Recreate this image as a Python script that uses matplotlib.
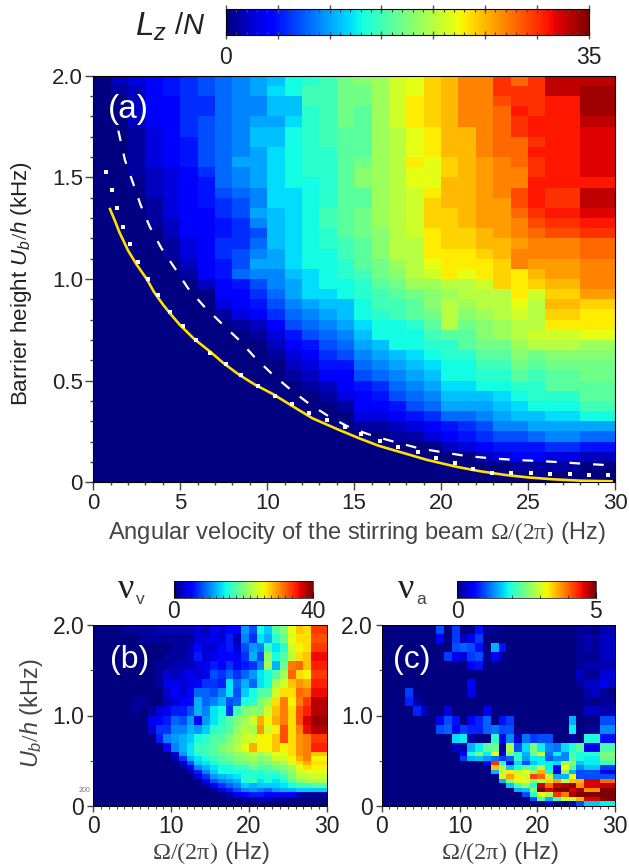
import numpy as np
import matplotlib
matplotlib.use("Agg")
import matplotlib.pyplot as plt

plt.rcParams["font.family"] = ["Liberation Sans", "DejaVu Sans"]
plt.rcParams["mathtext.fontset"] = "custom"
plt.rcParams["mathtext.rm"] = "Liberation Serif"
plt.rcParams["mathtext.it"] = "Liberation Sans:italic"

# panel (a): Lz/N, one list per 1 Hz column, from Ub=0 upward in 0.05 kHz rows
lz_cols = [
    [0]*40,
    [0]*38 + [1, 2],
    [0]*29 + [.5, 1, 1, 1, 1, 1, 2, 2, 2, 2, 3],
    [0]*25 + [1, 1, 1, 2, 2, 2, 3, 3, 3, 3, 4, 4, 4, 4, 4],
    [0]*22 + [1, 1, 2, 2, 3, 3, 3, 3, 3, 4, 4, 4, 4, 4, 4, 4, 5, 5],
    [0]*20 + [1, 2, 3, 3, 4, 4, 4, 4, 4, 4, 4, 5, 5, 5, 6, 6, 6, 6, 6, 6],
    [0]*19 + [2, 4, 4, 4, 4, 4, 4, 4, 5, 5, 5, 6, 7, 7, 7, 7, 7, 6, 6, 7, 7],
    [0]*16 + [1, 3, 4, 4, 5, 5, 6, 6, 5, 5, 6, 6, 7, 8, 8, 8, 8, 8, 8, 8, 8, 8, 8, 8],
    [0]*15 + [1, 3, 4, 4, 5, 8, 7, 7, 6, 6, 6, 7, 7, 8, 9, 9, 10, 9, 9, 9, 9, 9, 9, 9, 9],
    [0]*14 + [1, 2, 4, 5, 6, 7, 9, 10, 9, 8, 7, 9, 10, 9, 9, 10, 10, 10, 10, 11, 11, 10, 9, 9, 10, 10],
    [0]*12 + [1, 2, 3, 4, 6, 7, 8, 9, 9, 10, 10, 11, 11, 11, 11, 12, 12, 12, 12, 12, 12, 11, 11, 10, 11, 11, 12, 11],
    [0]*10 + [1, 2, 3, 4, 5, 7, 8, 9, 10, 10, 11, 12, 12, 12, 12, 12, 12, 12, 12, 13, 13, 13, 13, 13, 13, 12, 11, 11, 13, 13],
    [0]*9 + [1, 2, 3, 4, 5, 7, 8, 9, 10, 12, 12, 12, 13, 13, 13, 13, 13, 13, 13, 13, 13, 14, 14, 14, 14, 14, 14, 14, 15, 15, 14],
    [0]*8 + [1, 2, 4, 5, 6, 7, 8, 9, 10, 11, 12, 13, 13, 13, 13, 14, 14, 15, 15, 14, 14, 14, 14, 14, 14, 15, 15, 15, 15, 15, 15, 15],
    [0]*7 + [1, 3, 4, 4, 5, 7, 8, 9, 10, 11, 11, 13, 13, 14, 14, 15, 15, 16, 16, 16, 16, 16, 16, 16, 16, 16, 16, 16, 17, 17, 17, 17, 17],
    [0]*5 + [1, 3, 4, 4, 5, 7, 8, 9, 10, 11, 12, 13, 13, 14, 14, 15, 16, 16, 16, 17, 17, 17, 16, 16, 18, 18, 17, 16, 16, 16, 16, 16, 17, 17, 18],
    [0]*5 + [1, 3, 4, 5, 6, 8, 9, 10, 11, 13, 13, 14, 15, 15, 16, 17, 17, 18, 18, 18, 19, 19, 19, 19, 19, 19, 19, 19, 19, 19, 19, 19, 19, 19, 19],
    [0]*4 + [1, 2, 4, 5, 7, 8, 9, 10, 11, 13, 13, 13, 15, 15, 16, 17, 18, 19, 20, 20, 20, 20, 20, 20, 20, 20, 20, 20, 20, 20, 20, 21, 21, 21, 21, 21],
    [0]*4 + [1, 3, 5, 7, 8, 9, 10, 11, 12, 13, 13, 14, 16, 16, 17, 19, 20, 20, 20, 20, 21, 21, 21, 21, 21, 22, 22, 23, 22, 22, 22, 23, 23, 23, 22, 22],
    [0]*4 + [3, 4, 6, 8, 9, 10, 11, 12, 13, 14, 15, 16, 17, 18, 18, 19, 21, 22, 23, 23, 23, 24, 24, 24, 23, 22, 22, 22, 23, 23, 23, 24, 24, 24, 24, 24],
    [0]*3 + [2, 4, 5, 8, 10, 11, 12, 13, 13, 14, 14, 16, 20, 20, 20, 19, 20, 23, 23, 23, 24, 24, 24, 24, 25, 25, 25, 24, 24, 25, 25, 25, 25, 25, 25, 25, 25],
    [0]*3 + [3, 5, 6, 8, 10, 11, 12, 13, 13, 14, 16, 16, 17, 18, 19, 20, 20, 22, 23, 23, 24, 24, 25, 25, 25, 25, 25, 25, 25, 25, 25, 25, 27, 27, 27, 27, 27],
    [0]*2 + [2, 4, 6, 7, 9, 10, 11, 13, 14, 15, 16, 17, 18, 18, 19, 20, 20, 21, 23, 23, 24, 25, 25, 26, 26, 26, 26, 26, 26, 26, 27, 27, 27, 27, 27, 27, 27, 27],
    [0]*2 + [3, 5, 7, 9, 10, 11, 12, 13, 14, 15, 16, 17, 19, 19, 20, 20, 20, 24, 24, 24, 25, 25, 26, 26, 26, 26, 27, 27, 27, 27, 28, 28, 28, 28, 28, 29, 30, 30],
    [0, 1, 4, 5, 7, 9, 11, 12, 13, 14, 16, 17, 18, 19, 20, 20, 21, 22, 23, 23, 23, 27, 27, 26, 27, 27, 28, 29, 29, 27, 27, 28, 28, 28, 30, 30, 31, 30, 30, 28],
    [0, 1, 4, 5, 8, 10, 11, 13, 14, 14, 15, 16, 17, 20, 21, 20, 20, 20, 21, 24, 25, 26, 27, 27, 28, 29, 30, 31, 31, 31, 30, 30, 31, 30, 31, 31, 30, 30, 30, 30],
    [0, 1, 3, 6, 9, 10, 12, 13, 14, 16, 16, 17, 18, 20, 21, 23, 24, 25, 24, 25, 26, 26, 27, 27, 29, 30, 31, 30, 30, 31, 31, 31, 31, 31, 31, 31, 31, 31, 33, 33],
    [0, 1, 3, 6, 9, 10, 12, 13, 14, 16, 16, 17, 18, 20, 21, 23, 24, 25, 24, 25, 26, 26, 27, 27, 29, 30, 31, 30, 30, 31, 31, 31, 31, 31, 31, 31, 31, 31, 33, 33],
    [0, 0, 2, 5, 8, 10, 13, 15, 16, 16, 17, 17, 18, 19, 22, 23, 23, 24, 26, 27, 27, 27, 28, 28, 30, 31, 32, 33, 33, 31, 32, 32, 32, 32, 32, 33, 34, 34, 34, 33],
    [0, 0, 2, 5, 8, 10, 13, 15, 16, 16, 17, 17, 18, 19, 22, 23, 23, 24, 26, 27, 27, 27, 28, 28, 30, 31, 32, 33, 33, 31, 32, 32, 32, 32, 32, 33, 34, 34, 34, 33],
]

# critical curves in panel (a)
solid_omega = [0.96, 1.25, 1.5, 1.75, 2.0, 2.5, 3.07, 3.5, 4.0, 4.5, 4.98, 5.8, 6.73, 7.5, 8.4, 9.3, 10.33, 11.5, 12.6, 13.4, 14.15, 15.3, 16.4, 17.6, 18.4, 19.2, 20.85, 22.2, 23.7, 25, 26.4, 28, 29.8]
solid_ub = [1.344, 1.285, 1.23, 1.185, 1.14, 1.07, 1.0, 0.935, 0.875, 0.822, 0.774, 0.705, 0.642, 0.585, 0.528, 0.48, 0.434, 0.372, 0.315, 0.285, 0.257, 0.216, 0.18, 0.15, 0.13, 0.11, 0.077, 0.055, 0.036, 0.024, 0.015, 0.008, 0.005]
dash_omega = [1.44, 1.82, 2.26, 2.72, 3.25, 3.92, 4.69, 5.45, 6.35, 7.37, 8.38, 9.28, 10.3, 11.33, 12.43, 13.62, 14.83, 16.07, 17.4, 18.74, 20.07, 21.4, 22.86, 24.3, 25.6, 27, 28.4, 29.7]
dash_ub = [1.73, 1.585, 1.478, 1.364, 1.257, 1.151, 1.053, 0.954, 0.867, 0.782, 0.70, 0.615, 0.531, 0.457, 0.385, 0.32, 0.266, 0.229, 0.197, 0.167, 0.148, 0.13, 0.118, 0.11, 0.105, 0.098, 0.09, 0.084]
dot_omega = [0.73, 1.05, 1.38, 1.72, 2.1, 2.58, 3.12, 3.73, 4.4, 5.13, 5.89, 6.73, 7.61, 8.51, 9.47, 10.46, 11.4, 12.4, 13.43, 14.5, 15.4, 16.5, 17.55, 18.65, 19.7, 20.8, 21.86, 22.95, 24.04, 25.15, 26.26, 27.4, 28.5, 29.6]
dot_ub = [1.528, 1.438, 1.348, 1.257, 1.17, 1.085, 1.0, 0.921, 0.839, 0.769, 0.70, 0.637, 0.582, 0.528, 0.475, 0.426, 0.384, 0.342, 0.306, 0.27, 0.238, 0.205, 0.175, 0.148, 0.118, 0.093, 0.065, 0.047, 0.047, 0.044, 0.04, 0.039, 0.036, 0.036]

# panels (b), (c): rows from Ub=2.0 downward, finer rows under 0.6 kHz
small_ub_edges = [2.0, 1.9, 1.8, 1.7, 1.6, 1.5, 1.4, 1.3, 1.2, 1.1, 1.0, 0.9, 0.8, 0.7, 0.6,
                  0.55, 0.5, 0.45, 0.4, 0.35, 0.3, 0.25, 0.2, 0.15, 0.1, 0.05, 0.0]

nu_v_rows = [
    [0]*4 + [1, 1, 1, 1, 2, 2, 2, 2, 2, 3, 2, 4, 3, 5, 5, 11, 8, 15, 13, 18, 20, 25, 28, 27, 34, 34],
    [0]*6 + [1, 1, 1, 1, 1, 1, 1, 3, 3, 4, 3, 6, 2, 10, 7, 14, 12, 16, 19, 25, 27, 27, 33, 33],
    [0]*10 + [1, 1, 2, 5, 3, 3, 5, 6, 3, 8, 11, 10, 17, 14, 16, 24, 26, 27, 34, 34],
    [0]*9 + [1, 1, 1, 2, 6, 3, 4, 5, 5, 4, 7, 12, 8, 21, 15, 18, 23, 27, 28, 36, 36],
    [0]*8 + [1, 1, 2, 2, 2, 3, 4, 6, 5, 7, 5, 6, 7, 10, 22, 12, 19, 31, 32, 28, 35, 35],
    [0]*8 + [1, 3, 2, 3, 4, 3, 4, 8, 7, 9, 7, 9, 11, 14, 15, 18, 22, 32, 27, 26, 34, 34],
    [0]*8 + [1, 4, 4, 3, 4, 5, 7, 7, 6, 14, 9, 12, 9, 14, 15, 22, 24, 28, 30, 29, 35, 35],
    [0]*9 + [3, 5, 3, 5, 9, 9, 8, 10, 14, 8, 13, 15, 18, 18, 24, 27, 27, 32, 31, 36, 36],
    [0]*5 + [1, 1, 0, 0, 2, 3, 5, 5, 12, 9, 10, 12, 8, 9, 15, 16, 20, 22, 27, 31, 26, 31, 34, 38, 38],
    [0]*5 + [1, 0, 1, 3, 4, 6, 6, 8, 12, 10, 14, 15, 7, 17, 20, 21, 20, 24, 28, 31, 27, 33, 35, 38, 38],
    [0]*7 + [4, 5, 6, 9, 8, 11, 5, 11, 14, 16, 18, 20, 22, 24, 29, 26, 29, 31, 27, 33, 37, 39, 39],
    [0]*7 + [3, 7, 7, 10, 10, 12, 11, 13, 16, 17, 18, 21, 23, 22, 30, 24, 26, 33, 27, 31, 36, 38, 38],
    [0]*8 + [6, 10, 11, 12, 13, 15, 16, 18, 18, 20, 22, 24, 24, 26, 26, 28, 33, 27, 30, 31, 34, 34],
    [0]*9 + [5, 10, 12, 14, 17, 17, 18, 20, 21, 23, 25, 29, 26, 26, 28, 26, 27, 30, 31, 35, 35],
    [0]*10 + [3, 11, 14, 16, 17, 18, 19, 20, 21, 22, 23, 22, 23, 25, 25, 27, 30, 31, 28, 28],
    [0]*10 + [2, 7, 12, 14, 15, 17, 18, 19, 20, 21, 22, 20, 21, 24, 24, 26, 29, 31, 26, 26],
    [0]*11 + [3, 8, 13, 14, 15, 17, 17, 19, 19, 20, 19, 20, 21, 22, 24, 27, 29, 27, 27],
    [0]*11 + [1, 5, 10, 12, 14, 15, 15, 17, 17, 19, 18, 18, 20, 20, 22, 25, 27, 26, 26],
    [0]*12 + [2, 6, 10, 13, 15, 15, 15, 15, 16, 16, 17, 17, 19, 21, 24, 25, 25, 25],
    [0]*13 + [3, 7, 11, 12, 13, 14, 16, 16, 15, 16, 15, 17, 20, 23, 23, 24, 24],
    [0]*14 + [4, 8, 10, 11, 12, 15, 17, 14, 15, 14, 15, 18, 20, 22, 22, 22],
    [0]*14 + [1, 4, 7, 9, 10, 13, 12, 13, 13, 13, 14, 15, 17, 17, 18, 18],
    [0]*15 + [1, 4, 6, 8, 10, 11, 10, 9, 11, 12, 12, 13, 13, 13, 13],
    [0]*17 + [2, 4, 5, 6, 6, 5, 5, 5, 5, 2, 1, 1, 1],
    [0]*19 + [1, 1, 2, 2, 1, 0, 0, 0, 0, 0, 0],
    [0]*30,
]

nu_a_rows = [
    [0]*7 + [1.0, 0, .9, 0, 0, .7, .1, .1] + [0]*10 + [.1, .1, 0, .2, .2],
    [0]*7 + [.6, 0, .9, .3, .5, .9, 0, 0] + [0]*10 + [.1, .2, .1, .3, .3],
    [0]*9 + [1.0, 1.1, 1.0, .7, 0, 1.5, .7] + [0]*9 + [.1, .2, .1, .3, .3],
    [0]*8 + [.9, .5, .4, .9, 1.0, .1, .6, .1] + [0]*9 + [.1, .1, .1, .3, .3],
    [0]*11 + [.6, .7] + [0]*12 + [.1, .2, .2, .2, .2],
    [0]*25 + [.3, .1, .1, .4, .4],
    [0]*11 + [.6] + [0]*13 + [.1, .3, .3, .5, .3],
    [0]*3 + [.9] + [0]*7 + [.5] + [0]*14 + [.2, .3, .1, 0],
    [0]*3 + [.8, .2] + [0]*21 + [.1, 0, .1, .1],
    [0]*4 + [.8, .3, 0, 0, .4] + [0]*4 + [.5] + [0]*12 + [.3, .3, .2, .2],
    [0]*7 + [.5, 1.0, .7, 0, .6, .8, 1.1, 0, .7, .9] + [0]*7 + [1.5] + [0]*3 + [1.0, 1.0],
    [0]*7 + [1.0, 1.1, .5, .9, .8, .8, 1.1, 1.2, 1.0, 1.0] + [0]*7 + [1.8, 0, .1, .1, 1.3, 1.3],
    [0]*9 + [1.7, 1.8, .2, 0, 0, 2.0, .5, 1.3, .3, 1.2, .9, 1.0, 1.0, 0, 0, .2, 0, 1.9, 1.9, .7, .7],
    [0]*9 + [.3, .2, 1.5, 1.8, 2.3, 2.4, .2, 2.8, 1.0, 1.7, 2.5, 1.8, 1.3, 1.2, 1.7, 2.0, 2.3, .5, .5, 2.2, 2.2],
    [0]*10 + [.6, 1.9, 2.5, 1.8, 3.2, .4, 2.5, 2.0, 1.5, 2.4, 3.0, 1.2, 1.8, 1.3, 2.2, 1.9, 2.0, 2.0, 2.5, 2.5],
    [0]*10 + [.9, 1.5, 1.6, 1.4, 1.2, .9, 1.1, 2.1, 1.4, 1.8, 1.8, 1.1, 1.3, 1.3, 2.3, 1.9, 1.8, 1.8, 2.4, 2.4],
    [0]*13 + [.5, 4.3, 2.0, .5, 1.7, 1.0, 1.6, 1.8, 1.8, 1.7, 2.8, 2.5, 1.6, 1.8, 1.8, 2.1, 2.1],
    [0]*14 + [3.5, 2.8, 1.6, 2.0, 2.2, 2.2, 2.8, 1.8, .6, 3.2, 2.3, 1.3, 1.6, 1.6, .9, .9],
    [0]*14 + [1.5, 2.9, 3.3, 2.8, 3.2, 2.6, 3.6, 1.9, .3, 2.6, 1.5, 1.0, 1.0, 1.0, .5, .5],
    [0]*15 + [3.0, 3.7, 3.3, 3.0, 4.2, 4.0, 3.0, 1.5, 1.5, 3.2, 1.0, 1.0, 1.0, 1.0, 1.0],
    [0]*15 + [1.5, 2.5, 3.0, 3.1, 2.5, 2.8, 3.4, 3.7, 3.0, 3.5, 3.6, 4.6, 4.6, 4.0, 4.0],
    [0]*16 + [1.6, 2.2, 2.6, 2.0, 4.7, 4.0, 4.7, 4.8, 4.9, 3.8, 4.6, 4.6, 4.7, 4.7],
    [0]*17 + [1.5, 1.6, 2.6, 5, 4.6, 5, 5, 4.6, 4.8, 3.8, 3.8, 5, 5],
    [0]*18 + [1.0, 2.0, 3.1, 2.8, 4.3, 3.9, 4.8, 5, 5, 5, 5, 5],
    [0]*19 + [1.0, 2.2, 1.5, 2.2, 3.0, 3.0, 3.6, 4.6, 4.6, 5, 5],
    [0]*16 + [.1, 0, 0, 0, 0, .3, 0, 0, .3, 1.0, 1.6, 1.6, 1.8, 1.8],
]

W, H = 629, 867
INK = "#222222"
GRAY = "#444444"


def px_axes(fig, left, top, right, bottom):
    return fig.add_axes([left / W, 1 - bottom / H, (right - left) / W, (bottom - top) / H])


fig = plt.figure(figsize=(W / 100, H / 100), dpi=100)
omega_edges = np.arange(31)

# main panel
ax = px_axes(fig, 93.3, 75.7, 615, 482.3)
lz = np.array(lz_cols).T
ub_edges = np.arange(41) * 0.05
mesh_a = ax.pcolormesh(omega_edges, ub_edges, lz, cmap="jet", vmin=0, vmax=35)
ax.plot(solid_omega, solid_ub, color="#ffe000", lw=1.9, zorder=3)
ax.plot(dash_omega, dash_ub, color="white", lw=1.6, dashes=(4.8, 5.8), zorder=4)
ax.plot(dot_omega, dot_ub, ls="none", marker="s", ms=3.4, mfc="white", mec="white", mew=0, zorder=5)
ax.set_xlim(0, 30)
ax.set_ylim(0, 2)
ax.set_xticks(range(0, 31, 5))
ax.set_xticks(range(0, 31), minor=True)
ax.set_yticks([0, 0.5, 1.0, 1.5, 2.0])
ax.set_yticklabels(["0", "0.5", "1.0", "1.5", "2.0"])
ax.set_yticks(np.arange(21) * 0.1, minor=True)
ax.tick_params(which="major", length=5.5, width=1.0, color=GRAY, labelsize=16, labelcolor=INK, pad=2)
ax.tick_params(which="minor", length=2.5, width=1.0, color=GRAY)
ax.set_xlabel(r"Angular velocity of the stirring beam $\mathrm{\Omega/(2\pi)}$ (Hz)",
              fontsize=17, color=GRAY, va="center")
ax.xaxis.set_label_coords(0.505, -0.125)
ax.set_ylabel(r"Barrier height $\mathit{U_b/h}$ (kHz)", fontsize=16.1, color=INK, va="center")
ax.yaxis.set_label_coords(-0.137, 0.488)
ax.text(0.85, 1.79, "(a)", color="white", fontsize=24)

cax = px_axes(fig, 226, 9, 588.7, 35)
cb = fig.colorbar(mesh_a, cax=cax, orientation="horizontal")
cb.set_ticks(list(range(0, 36, 5)))
cb.set_ticklabels(["0", "", "", "", "", "", "", "35"])
cb.ax.set_xticks(range(0, 36), minor=True)
cax.tick_params(which="major", direction="inout", length=6, width=1.0, color="#555555",
                top=True, bottom=True, labelsize=16.5, pad=5, labelcolor=INK)
cax.tick_params(which="minor", direction="in", length=2.5, width=0.8, color="#444444", top=True, bottom=True)
fig.text(135 / W, 1 - 27 / H, r"$\mathit{L_z}$", fontsize=24, va="center", color=INK)
fig.text(174 / W, 1 - 26 / H, r"/$\mathit{N}$", fontsize=21, va="center", color=INK)

# small panels
nu_v = np.array(nu_v_rows)
nu_a = np.array(nu_a_rows)


def small_panel(left, right, values, vmax, tag, tag_x, bar_left, bar_right, sym, sub, sym_x):
    a = px_axes(fig, left, 625, right, 806)
    m = a.pcolormesh(omega_edges, small_ub_edges, values, cmap="jet", vmin=0, vmax=vmax)
    a.set_xlim(0, 30)
    a.set_ylim(0, 2)
    a.set_xticks([0, 10, 20, 30])
    a.set_xticks(range(0, 31), minor=True)
    a.set_yticks([0, 1, 2])
    a.set_yticklabels(["0", "1.0", "2.0"])
    a.set_yticks([0.5, 1.5], minor=True)
    a.tick_params(which="major", length=4, width=1.0, color=GRAY, labelsize=16.5, labelcolor=INK, pad=2.5)
    a.tick_params(which="minor", length=2, width=0.8, color=GRAY)
    a.set_xlabel(r"$\mathrm{\Omega/(2\pi)}$ (Hz)", fontsize=17.5, color=GRAY, va="center")
    a.xaxis.set_label_coords(0.505, -0.26)
    a.text(tag_x, 1.53, tag, color="white", fontsize=23)
    for s in a.spines.values():
        s.set_linewidth(0.7)
    c = px_axes(fig, bar_left, 581, bar_right, 597.7)
    cbar = fig.colorbar(m, cax=c, orientation="horizontal")
    cbar.set_ticks([0, vmax])
    cbar.set_ticklabels(["0", str(vmax)])
    c.tick_params(which="major", direction="in", length=4, width=0.8, color="#333333", labelsize=16.5, pad=2,
                  labelcolor=INK)
    for s in c.spines.values():
        s.set_linewidth(0.5)
    fig.text(sym_x / W, 1 - 589 / H, sym, fontsize=26, family="Liberation Serif", va="center", color=INK)
    fig.text((sym_x + 18) / W, 1 - 600 / H, sub, fontsize=12.5, va="center", color=GRAY)
    return a, c


ax_b, cax_b = small_panel(93.3, 326.7, nu_v, 40, "(b)", 2.15, 174, 312.7, "ν", "v", 118)
ax_c, cax_c = small_panel(381.7, 615.3, nu_a, 5, "(c)", 1.45, 457, 595.7, "ν", "a", 398)
ax_b.set_ylabel(r"$\mathit{U_b/h}$ (kHz)", fontsize=16.9, color=GRAY, va="center")
ax_b.yaxis.set_label_coords(-0.263, 0.514)
cax_b.set_xticks(range(0, 41, 2), minor=True)
cax_b.tick_params(which="minor", direction="in", length=2, width=0.6, color="#333333")
cax_c.set_xticks(range(0, 6), minor=True)
cax_c.tick_params(which="minor", direction="in", length=2, width=0.6, color="#333333")
fig.text(79 / W, 1 - 791 / H, "200", fontsize=5, color="#777777", va="center")

fig.savefig("out.png", dpi=100)
